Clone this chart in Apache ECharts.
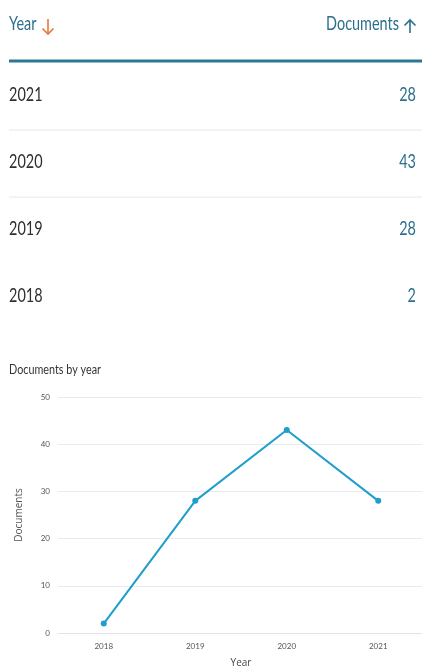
<!DOCTYPE html>
<html>
<head>
<meta charset="utf-8">
<script src="https://cdn.jsdelivr.net/npm/echarts@6/dist/echarts.min.js"></script>
<style>
html,body{margin:0;padding:0;background:#fff;}
#main{width:422px;height:668px;}
</style>
</head>
<body>
<div id="main"></div>
<script>
// Data
const years = ['2018', '2019', '2020', '2021'];
const documents = [2, 28, 43, 28];
const yTicks = [0, 10, 20, 30, 40, 50];
const tableHeaders = ['Year', 'Documents'];
const chartTitle = 'Documents by year';
const yAxisName = 'Documents';
const xAxisName = 'Year';

const font = 'Lato, "Open Sans", sans-serif';
const teal = '#2b6f8c';
const SX = 0.76;

// Table rows (sorted by year, descending)
const order = years.map((y, i) => i).sort((a, b) => Number(years[b]) - Number(years[a]));
const rowCenters = [95, 162, 229, 296];
const graphics = [];

function txt(text, x, y, align, size, color, sx) {
  return {
    type: 'text', x: x, y: y, scaleX: sx, scaleY: 1,
    style: { text: text, x: 0, y: 0, align: align, verticalAlign: 'middle',
             font: size + 'px ' + font, fill: color }
  };
}

graphics.push(txt(tableHeaders[0], 9, 24, 'left', 19, teal, SX));
graphics.push(txt(tableHeaders[1], 399, 24, 'right', 19, teal, SX));
// down arrow (orange)
graphics.push({ type: 'polyline', shape: { points: [[48, 19], [48, 34]] },
  style: { stroke: '#e8773a', lineWidth: 1.6, fill: null } });
graphics.push({ type: 'polyline', shape: { points: [[42.5, 28.5], [48, 34], [53.5, 28.5]] },
  style: { stroke: '#e8773a', lineWidth: 1.6, fill: null } });
// up arrow (teal)
graphics.push({ type: 'polyline', shape: { points: [[410, 20], [410, 33]] },
  style: { stroke: teal, lineWidth: 1.6, fill: null } });
graphics.push({ type: 'polyline', shape: { points: [[404.5, 25.5], [410, 20], [415.5, 25.5]] },
  style: { stroke: teal, lineWidth: 1.6, fill: null } });

graphics.push({ type: 'rect', shape: { x: 9, y: 59.5, width: 413, height: 3 },
  style: { fill: '#2a7894' } });
[130, 197].forEach(y => graphics.push({
  type: 'rect', shape: { x: 9, y: y - 0.5, width: 413, height: 1.2 },
  style: { fill: '#ececec' }
}));
order.forEach((idx, r) => {
  graphics.push(txt(years[idx], 9, rowCenters[r], 'left', 19, '#2e2e2e', SX));
  graphics.push(txt(String(documents[idx]), 416, rowCenters[r], 'right', 19, teal, SX));
});
graphics.push(txt(chartTitle, 9, 370, 'left', 13.5, '#333', 0.8));

const chart = echarts.init(document.getElementById('main'), null, { renderer: 'canvas' });
chart.setOption({
  animation: false,
  backgroundColor: '#fff',
  graphic: graphics,
  grid: { left: 58, top: 397, width: 366, height: 236, containLabel: false, outerBoundsMode: 'none' },
  xAxis: {
    type: 'category', data: years, boundaryGap: true,
    name: xAxisName, nameLocation: 'middle', nameGap: 25,
    nameTextStyle: { fontFamily: '"Open Sans", sans-serif', fontSize: 10, color: '#444' },
    axisLine: { show: true, lineStyle: { color: '#dfe4ee', width: 1 } },
    axisTick: { show: false },
    axisLabel: { margin: 9, fontFamily: font, fontSize: 8, color: '#555' }
  },
  yAxis: {
    type: 'value', min: yTicks[0], max: yTicks[yTicks.length - 1], interval: 10,
    name: yAxisName, nameLocation: 'middle', nameGap: 34, nameRotate: 90,
    nameTextStyle: { fontFamily: '"Open Sans", sans-serif', fontSize: 10, color: '#555' },
    axisLine: { show: false }, axisTick: { show: false },
    axisLabel: { margin: 8, fontFamily: font, fontSize: 8, color: '#555' },
    splitLine: { lineStyle: { color: '#e8ebf0', width: 1 } }
  },
  series: [{
    type: 'line', data: documents,
    symbol: 'circle', symbolSize: 6,
    lineStyle: { color: '#1e9ecb', width: 2 },
    itemStyle: { color: '#1e9ecb' }
  }]
});
</script>
</body>
</html>
